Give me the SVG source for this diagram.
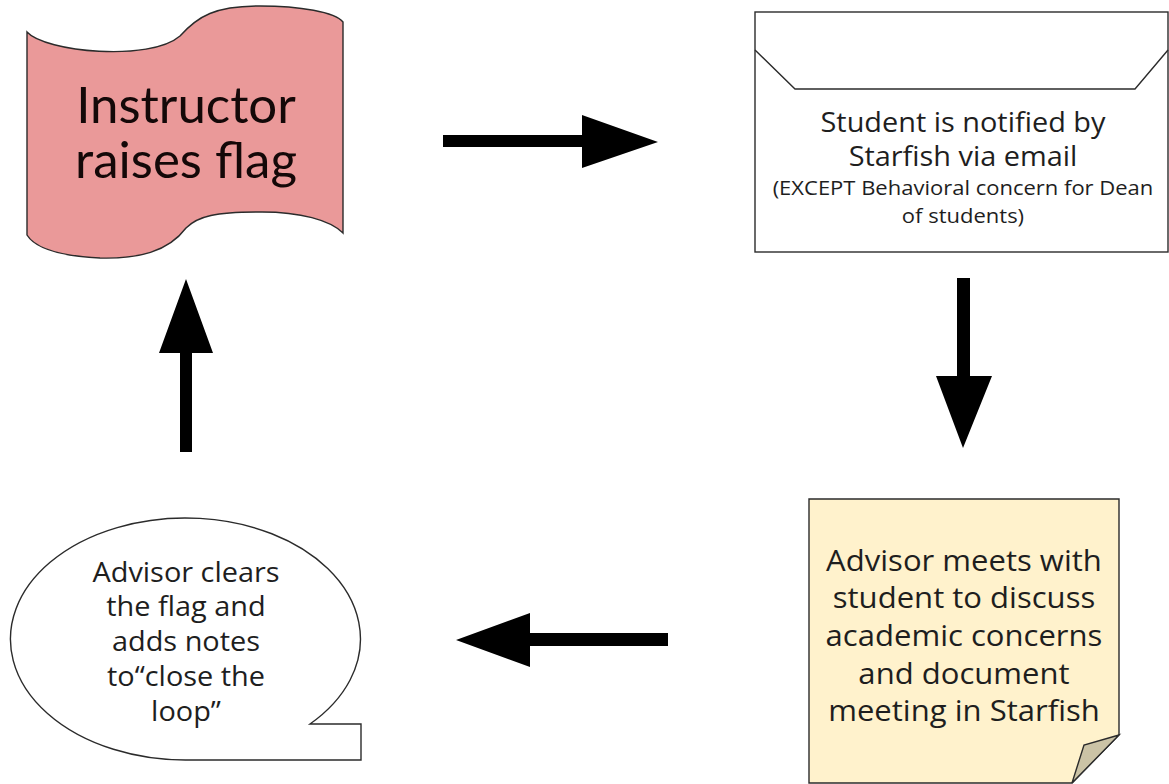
<svg xmlns="http://www.w3.org/2000/svg" width="1169" height="784" viewBox="0 0 1169 784">
<style>
.shape{stroke:#2b2b2b;stroke-width:1.4;stroke-linejoin:miter}
.t{font-family:"Open Sans","Noto Sans","Liberation Sans",sans-serif;fill:#1e1e1e;text-anchor:middle}
.tf{font-family:Lato,"Open Sans","Liberation Sans",sans-serif;fill:#140808;text-anchor:middle}
.arrow{fill:#000}
</style>
<rect width="1169" height="784" fill="#fff"/>
<g id="node-flag">
<path class="shape" fill="#EA9999" d="M27,32 C45,52 150,62 180,36 C198,16 215,6 260,6 C300,6 335,12 343,22 L343,233 C330,220 300,212 262,212 C215,212 198,216 186,228 C168,252 138,259 100,258 C60,256 35,248 27,235 Z"/>
<text class="tf" font-size="51" x="186" y="123">Instructor</text>
<text class="tf" font-size="51" x="186" y="178">raises flag</text>
</g>
<g id="node-envelope">
<rect class="shape" fill="#fff" x="755" y="12" width="413" height="240"/>
<path class="shape" fill="none" d="M755,50 L795,89 L1135,89 L1168,50"/>
<g transform="matrix(1.09,0,0,1,-86.67,0)">
<text class="t" font-size="26.5" x="963" y="132">Student is notified by</text>
<text class="t" font-size="26.5" x="963" y="166">Starfish via email</text>
</g>
<g transform="matrix(1.1,0,0,1,-96.3,0)">
<text class="t" font-size="20" x="963" y="195">(EXCEPT Behavioral concern for Dean</text>
<text class="t" font-size="20" x="963" y="223">of students)</text>
</g>
</g>
<g id="node-note">
<path class="shape" fill="#FFF2CC" d="M809,499 L1119,499 L1119,735 L1072,783 L809,783 Z"/>
<path class="shape" fill="#CBC3A6" d="M1119,735 L1084,745 L1072,783 Z"/>
<g transform="matrix(1.09,0,0,1,-86.76,0)">
<text class="t" font-size="28.5" x="964" y="571">Advisor meets with</text>
<text class="t" font-size="28.5" x="964" y="608">student to discuss</text>
<text class="t" font-size="28.5" x="964" y="646">academic concerns</text>
<text class="t" font-size="28.5" x="964" y="684">and document</text>
<text class="t" font-size="28.5" x="964" y="721">meeting in Starfish</text>
</g>
</g>
<g id="node-bubble">
<path class="shape" fill="#fff" d="M310,724 L361,724 L361,760 L187,760 A175,121 0 1 1 310,724 Z"/>
<g transform="matrix(1.07,0,0,1,-13.02,0)">
<text class="t" font-size="27" x="186" y="582">Advisor clears</text>
<text class="t" font-size="27" x="186" y="616">the flag and</text>
<text class="t" font-size="27" x="186" y="651">adds notes</text>
<text class="t" font-size="27" x="186" y="686">to“close the</text>
<text class="t" font-size="27" x="186" y="721">loop”</text>
</g>
</g>
<g id="connectors">
<path class="arrow" d="M443,135 L582,135 L582,115 L658,142 L582,168 L582,147 L443,147 Z"/>
<path class="arrow" d="M957,278 L970,278 L970,376 L992,376 L963,448 L936,376 L957,376 Z"/>
<path class="arrow" d="M668,633 L530,633 L530,613 L456,640 L530,667 L530,646 L668,646 Z"/>
<path class="arrow" d="M180,452 L180,353 L159,353 L186,279 L213,353 L192,353 L192,452 Z"/>
</g>
</svg>
